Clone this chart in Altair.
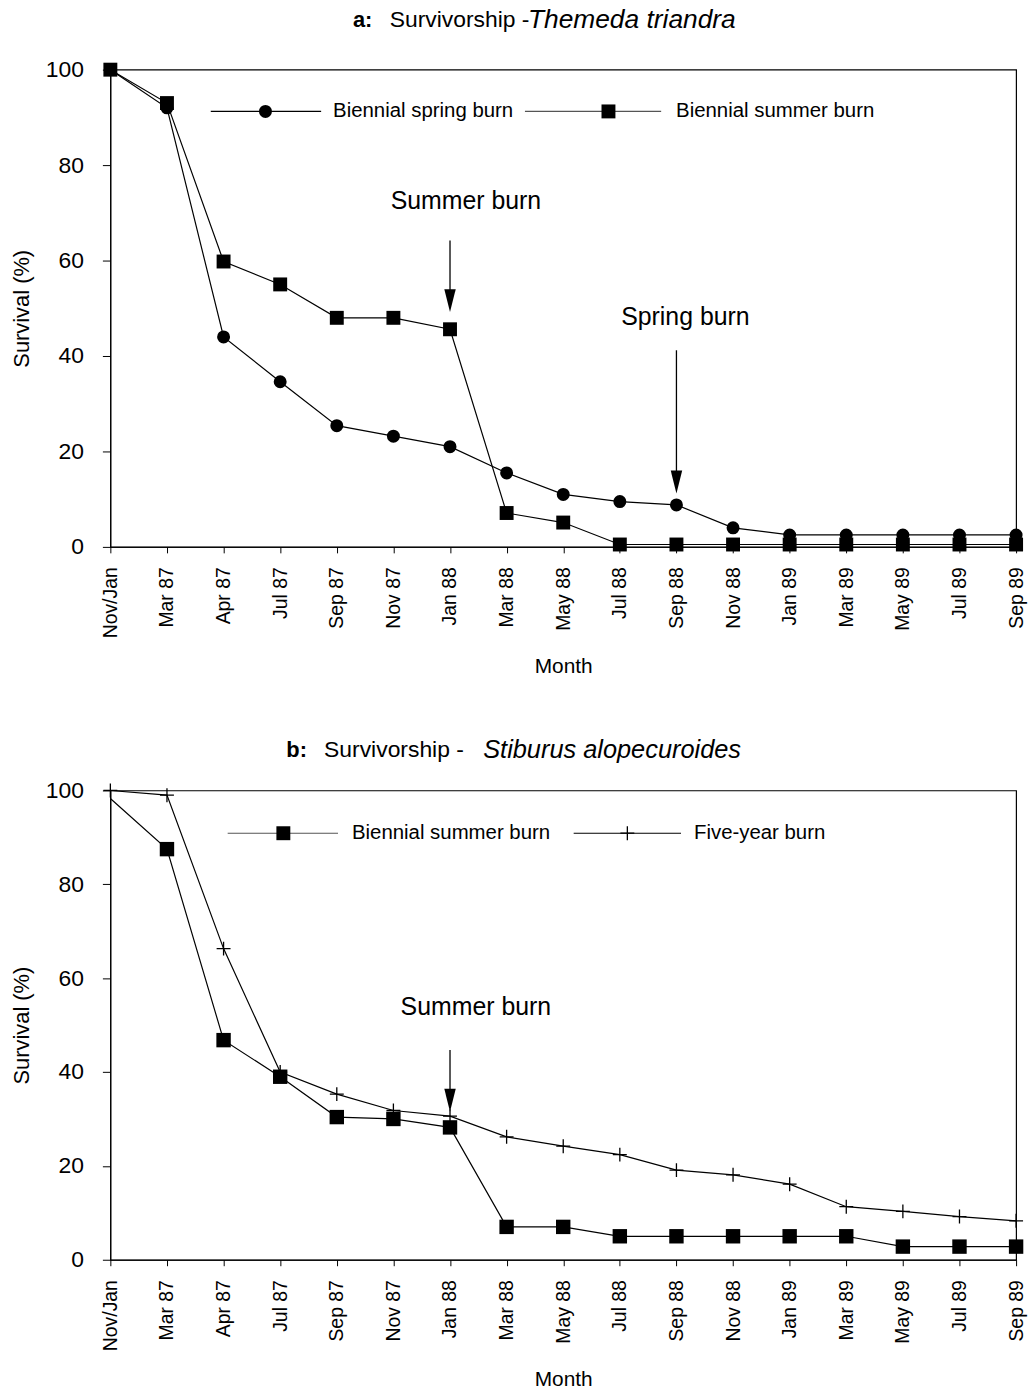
import altair as alt
import pandas as pd

FONT = "Liberation Sans"

# Sampling dates shared by both panels
months = ["Nov/Jan", "Mar 87", "Apr 87", "Jul 87", "Sep 87", "Nov 87", "Jan 88",
          "Mar 88", "May 88", "Jul 88", "Sep 88", "Nov 88", "Jan 89", "Mar 89",
          "May 89", "Jul 89", "Sep 89"]

# Panel a: Themeda triandra survival (%)
themeda_spring = [100, 92, 44, 34.6, 25.4, 23.2, 21, 15.5, 11, 9.5, 8.8, 4,
                  2.5, 2.5, 2.5, 2.5, 2.5]
themeda_summer = [100, 93, 59.8, 55, 48, 48, 45.6, 7.1, 5.1, 0.5, 0.5, 0.5,
                  0.5, 0.5, 0.5, 0.5, 0.5]

# Panel b: Stiburus alopecuroides survival (%)
stiburus_summer = [98.3, 87.5, 46.8, 39, 30.4, 30, 28.2, 7, 7, 5, 5, 5, 5, 5,
                   2.8, 2.8, 2.8]
stiburus_five = [100, 99, 66.3, 40, 35.3, 31.8, 30.6, 26.2, 24.2, 22.4, 19.1,
                 18.1, 16.1, 11.3, 10.3, 9.2, 8.3]

# Burn events: (label, month of burn, arrow tip, arrow top, label level, label dx)
burns_a = [("Summer  burn", "Jan 88", 49.2, 64.2, 72.5, 16),
           ("Spring burn", "Sep 88", 11.2, 41.2, 48.1, 9)]
burns_b = [("Summer  burn", "Jan 88", 31.6, 44.7, 53.8, 26)]

W = 911
PLUS = "M-1,0L1,0M0,-1L0,1"
HEAD = "M-0.5,-1L0.5,-1L0,1Z"

x_enc = alt.X("month:N", sort=months,
              scale=alt.Scale(type="point", padding=0),
              axis=alt.Axis(title="Month", labelAngle=270, labelFontSize=19.5,
                            labelFont=FONT, labelColor="black", tickSize=6,
                            labelPadding=14, tickColor="black",
                            domainColor="black", titleFont=FONT,
                            titleFontSize=21, titleFontWeight="normal",
                            titlePadding=18, titleColor="black"))
y_enc = alt.Y("value:Q", scale=alt.Scale(domain=[0, 100], nice=False),
              axis=alt.Axis(title="Survival (%)", values=[0, 20, 40, 60, 80, 100],
                            grid=False, labelFontSize=23, labelFont=FONT,
                            labelColor="black", tickSize=8, labelPadding=19,
                            tickColor="black", domainColor="black",
                            titleFont=FONT, titleFontSize=22,
                            titleFontWeight="normal", titlePadding=12,
                            titleColor="black"))


def one_row(**kw):
    return pd.DataFrame({k: [v] for k, v in kw.items()})


def text_at(txt, x, y, size, weight="normal", style="normal", align="left"):
    return alt.Chart(one_row(t=txt)).mark_text(
        font=FONT, fontSize=size, fontWeight=weight, fontStyle=style,
        align=align, baseline="middle", color="black"
    ).encode(x=alt.value(x), y=alt.value(y), text="t:N")


def rule_at(x1, x2, y, color="black"):
    return alt.Chart(one_row(k=0)).mark_rule(color=color, strokeWidth=1.2).encode(
        x=alt.value(x1), x2=alt.value(x2), y=alt.value(y))


def symbol_at(shape, x, y, size, filled=True):
    return alt.Chart(one_row(k=0)).mark_point(
        shape=shape, size=size, filled=filled, color="black", opacity=1,
        strokeWidth=1.3
    ).encode(x=alt.value(x), y=alt.value(y))


def panel(series, markers, burns, title_parts, legend_layers, height):
    df = pd.concat([pd.DataFrame({"month": months, "value": vals, "series": name})
                    for name, vals in series], ignore_index=True)
    layers = [alt.Chart(df).mark_line(color="black", strokeWidth=1.2).encode(
        x=x_enc, y=y_enc, detail="series:N")]
    for name, shape, size, filled, skip_first in markers:
        c = alt.Chart(df).transform_filter(alt.datum.series == name)
        if skip_first:
            c = c.transform_filter(alt.datum.month != months[0])
        layers.append(c.mark_point(shape=shape, size=size, filled=filled,
                                   color="black", opacity=1, strokeWidth=1.3)
                      .encode(x=x_enc, y=y_enc))
    for label, m, tip, top, ty, dx in burns:
        arrow = pd.DataFrame({"month": [m], "value": [top], "value2": [tip + 2.3]})
        layers.append(alt.Chart(arrow).mark_rule(color="black", strokeWidth=1.3)
                      .encode(x=x_enc, y=y_enc, y2="value2:Q"))
        head = pd.DataFrame({"month": [m], "value": [tip + 2.4]})
        layers.append(alt.Chart(head).mark_point(shape=HEAD, size=529, filled=True,
                                                 color="black", opacity=1)
                      .encode(x=x_enc, y=y_enc))
        note = pd.DataFrame({"month": [m], "value": [ty], "label": [label]})
        layers.append(alt.Chart(note).mark_text(font=FONT, fontSize=25, dx=dx,
                                                align="center", baseline="middle",
                                                color="black")
                      .encode(x=x_enc, y=y_enc, text="label:N"))
    layers += title_parts + legend_layers
    return alt.layer(*layers).properties(width=W, height=height)


title_a = [text_at("a:", 244, -50, 22, weight="bold"),
           text_at("Survivorship -", 281, -50, 23),
           text_at("Themeda triandra", 420, -50, 26.5, style="italic")]
legend_a = [rule_at(101, 212, 42), symbol_at("circle", 156, 42, 170),
            text_at("Biennial spring burn", 224, 42, 20.5),
            rule_at(417, 554, 42, color="#555"), symbol_at("square", 501, 42, 196),
            text_at("Biennial summer burn", 569, 42, 20.5)]

title_b = [text_at("b:", 177, -41, 22, weight="bold"),
           text_at("Survivorship -", 215, -41, 23),
           text_at("Stiburus alopecuroides", 375, -41, 25.5, style="italic")]
legend_b = [rule_at(118, 229, 43, color="#555"), symbol_at("square", 174, 43, 196),
            text_at("Biennial summer burn", 243, 43, 20.5),
            rule_at(466, 574, 43), symbol_at(PLUS, 520, 43, 196, filled=False),
            text_at("Five-year burn", 587, 43, 20.5)]

panel_a = panel([("Biennial spring burn", themeda_spring),
                 ("Biennial summer burn", themeda_summer)],
                [("Biennial spring burn", "circle", 170, True, False),
                 ("Biennial summer burn", "square", 196, True, False)],
                burns_a, title_a, legend_a, 480)

panel_b = panel([("Biennial summer burn", stiburus_summer),
                 ("Five-year burn", stiburus_five)],
                [("Biennial summer burn", "square", 210, True, True),
                 ("Five-year burn", PLUS, 196, False, False)],
                burns_b, title_b, legend_b, 472)

chart = alt.vconcat(panel_a, panel_b, spacing=59).properties(
    padding={"left": 10, "top": 2, "right": 5, "bottom": 5},
    background="white"
).configure_view(stroke="black", strokeWidth=1.2)

chart.save("out.html", embed_options={"renderer": "svg", "actions": False})
